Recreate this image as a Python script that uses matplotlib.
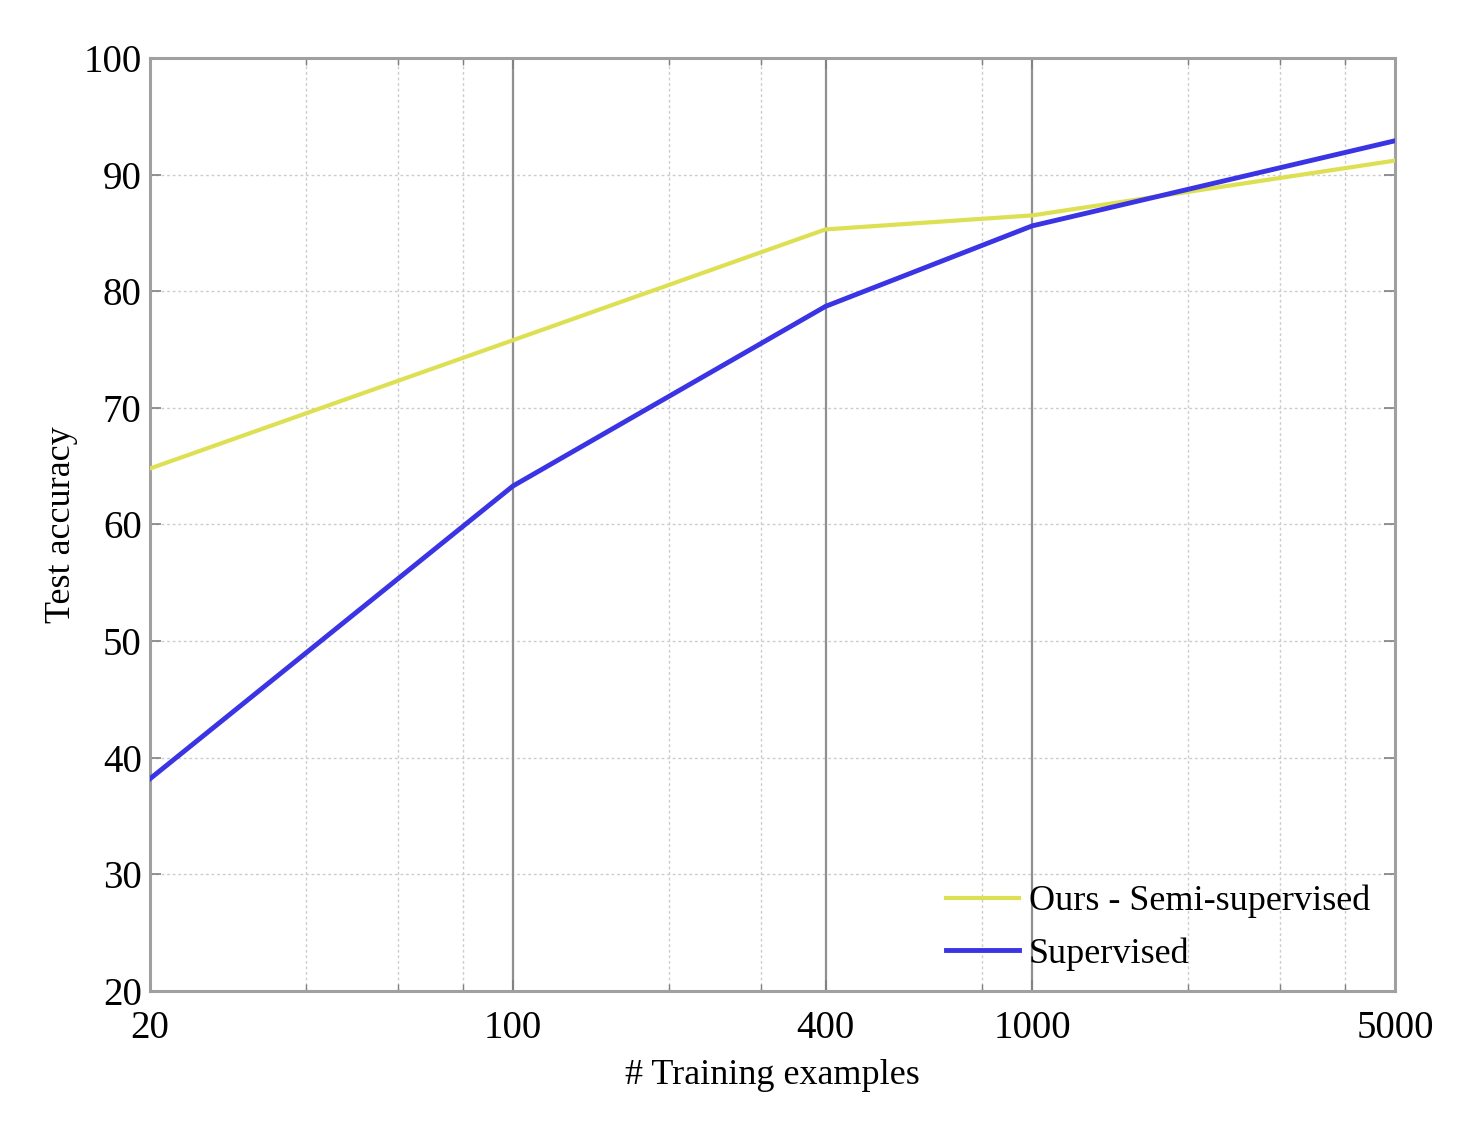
import numpy as np
import matplotlib
matplotlib.use('Agg')
import matplotlib.pyplot as plt
from matplotlib.ticker import FixedLocator, NullFormatter

# --- data --- #
n_train = [20, 100, 400, 1000, 5000]
acc_semi = [64.8, 75.8, 85.3, 86.5, 91.2]
acc_sup = [38.2, 63.3, 78.7, 85.6, 92.9]
xtick_labels = ['20', '100', '400', '1000', '5000']
x_minor = [40, 60, 80, 200, 300, 800, 2000, 3000, 4000]
yticks = [20, 30, 40, 50, 60, 70, 80, 90, 100]

plt.rcParams['font.family'] = ['Liberation Serif', 'DejaVu Serif']

fig = plt.figure(figsize=(14.8, 11.34), dpi=100)
ax1 = fig.add_axes([0.1014, 0.1261, 0.8412, 0.8228])

# grid : dotted for y and minor x, solid for inner major x
for y in yticks[1:-1]:
    ax1.axhline(y, color='#cccccc', lw=1.0, ls=(0, (2, 2)), zorder=1)
for x in x_minor:
    ax1.axvline(x, color='#cccccc', lw=1.0, ls=(0, (2, 2)), zorder=1)
for x in n_train[1:-1]:
    ax1.axvline(x, color='#909090', lw=1.6, zorder=1)

ax1.plot(n_train, acc_semi, '-', color='#dde052', lw=3.0, label='Ours - Semi-supervised', zorder=3)
ax1.plot(n_train, acc_sup, '-', color='#3a34e4', lw=3.5, label='Supervised', zorder=3)

# Limits
ax1.set_xscale('log')
ax1.set_xlim(20, 5000)
ax1.set_ylim(20, 100)

# Ticks
ax1.xaxis.set_major_locator(FixedLocator(n_train))
ax1.set_xticklabels(xtick_labels)
ax1.xaxis.set_minor_locator(FixedLocator(x_minor))
ax1.xaxis.set_minor_formatter(NullFormatter())
ax1.set_yticks(yticks)
ax1.tick_params(which='both', direction='in', top=True, right=True,
                color='#808080', labelsize=28)
ax1.tick_params(axis='x', pad=14)
ax1.tick_params(axis='y', pad=6)
ax1.tick_params(which='major', length=8, width=1.2)
ax1.tick_params(which='minor', length=5, width=1.0)
for s in ax1.spines.values():
    s.set_color('#a0a0a0')
    s.set_linewidth(2.2)

# Labels
ax1.set_xlabel('# Training examples', fontsize=26, labelpad=8)
ax1.set_ylabel('Test accuracy', fontsize=26, labelpad=4)

# Legend
ax1.legend(loc='lower right', bbox_to_anchor=(1.006, -0.013), frameon=False,
           fontsize=26, handlelength=2.0, handletextpad=0.28, labelspacing=0.52)

fig.savefig('out.png', dpi=100)
